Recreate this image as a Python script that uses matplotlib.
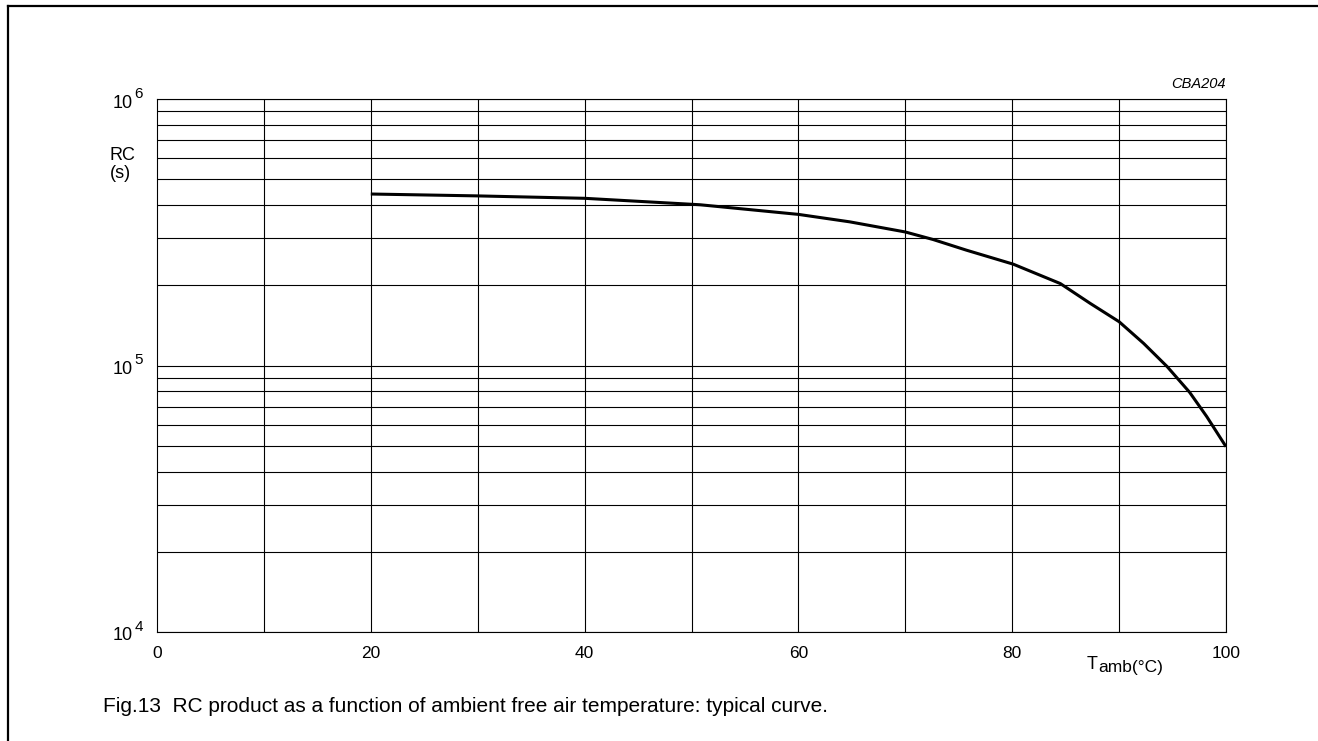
import numpy as np
import matplotlib
matplotlib.use("Agg")
import matplotlib.pyplot as plt
from matplotlib.lines import Line2D
from matplotlib.transforms import blended_transform_factory, ScaledTranslation

plt.rcParams['font.family'] = ['Liberation Sans', 'DejaVu Sans']

# curve (temperature in degC, RC in s)
temp = [20, 29.9, 40, 50.8, 60, 64.8, 70, 72.6, 75.7, 80.1, 84.5, 87.3, 90,
        92.3, 94.5, 96.6, 98.2, 100]
rc = [4.40e5, 4.33e5, 4.24e5, 4.01e5, 3.69e5, 3.46e5, 3.17e5, 2.97e5, 2.71e5,
      2.40e5, 2.03e5, 1.71e5, 1.46e5, 1.21e5, 9.9e4, 7.93e4, 6.43e4, 4.96e4]

xticks = [0, 20, 40, 60, 80, 100]
yticks = [1e4, 1e5, 1e6]
ytick_exp = ['4', '5', '6']

fig = plt.figure(figsize=(13.18, 7.41), dpi=100)
ax = fig.add_axes([157/1318, 1 - 632/741, (1226-157)/1318, (632-99)/741])

ax.plot(temp, rc, color='black', lw=2.2, solid_capstyle='butt')

ax.set_yscale('log')
ax.set_xlim(0, 100)
ax.set_ylim(1e4, 1e6)

# grid
for xv in range(10, 101, 10):
    ax.axvline(xv, color='black', lw=0.8, zorder=0)
for dec in [1e4, 1e5]:
    for m in range(1, 10):
        ax.axhline(dec * m, color='black', lw=0.8, zorder=0)
ax.axhline(1e6, color='black', lw=0.8, zorder=0)

for s in ax.spines.values():
    s.set_linewidth(0.8)

ax.set_xticks(xticks)
ax.set_xticklabels([str(v) for v in xticks], fontsize=12.5)
ax.tick_params(axis='x', length=0, pad=10)
ax.set_yticks(yticks)
ax.set_yticklabels([])
ax.yaxis.set_minor_locator(matplotlib.ticker.NullLocator())
ax.tick_params(axis='y', length=0)

# y tick labels as "10" with a large exponent
ytr = blended_transform_factory(ax.transAxes, ax.transData)
for v, e in zip(yticks, ytick_exp):
    ax.text(-0.0225, v, '10', transform=ytr + ScaledTranslation(0, -4/100, fig.dpi_scale_trans),
            fontsize=13, ha='right', va='center')
    ax.text(-0.021, v, e, transform=ytr + ScaledTranslation(0, 5/100, fig.dpi_scale_trans),
            fontsize=11, ha='left', va='center')

ax.text(-0.044, (632-155)/533, 'RC', transform=ax.transAxes, fontsize=13,
        ha='left', va='center')
ax.text(-0.044, (632-173)/533, '(s)', transform=ax.transAxes, fontsize=13,
        ha='left', va='center')

ax.text((1087-157)/1069, -(669-632)/533, 'T', transform=ax.transAxes,
        fontsize=13, ha='left', va='baseline')
ax.text((1098-157)/1069, -(672-632)/533, 'amb(°C)', transform=ax.transAxes,
        fontsize=12.5, ha='left', va='baseline')

ax.text(1.0, 1.015, 'CBA204', transform=ax.transAxes, fontsize=10.5,
        style='italic', ha='right', va='bottom')

fig.text(103/1318, 1 - 707/741,
         'Fig.13  RC product as a function of ambient free air temperature: typical curve.',
         fontsize=15, ha='left', va='center')

# page frame (left and top edges)
fig.add_artist(Line2D([8/1318, 8/1318], [0, 1 - 6/741], color='black', lw=1.6,
                      transform=fig.transFigure))
fig.add_artist(Line2D([8/1318, 1], [1 - 6/741, 1 - 6/741], color='black', lw=1.6,
                      transform=fig.transFigure))

fig.savefig('out.png', dpi=100)
